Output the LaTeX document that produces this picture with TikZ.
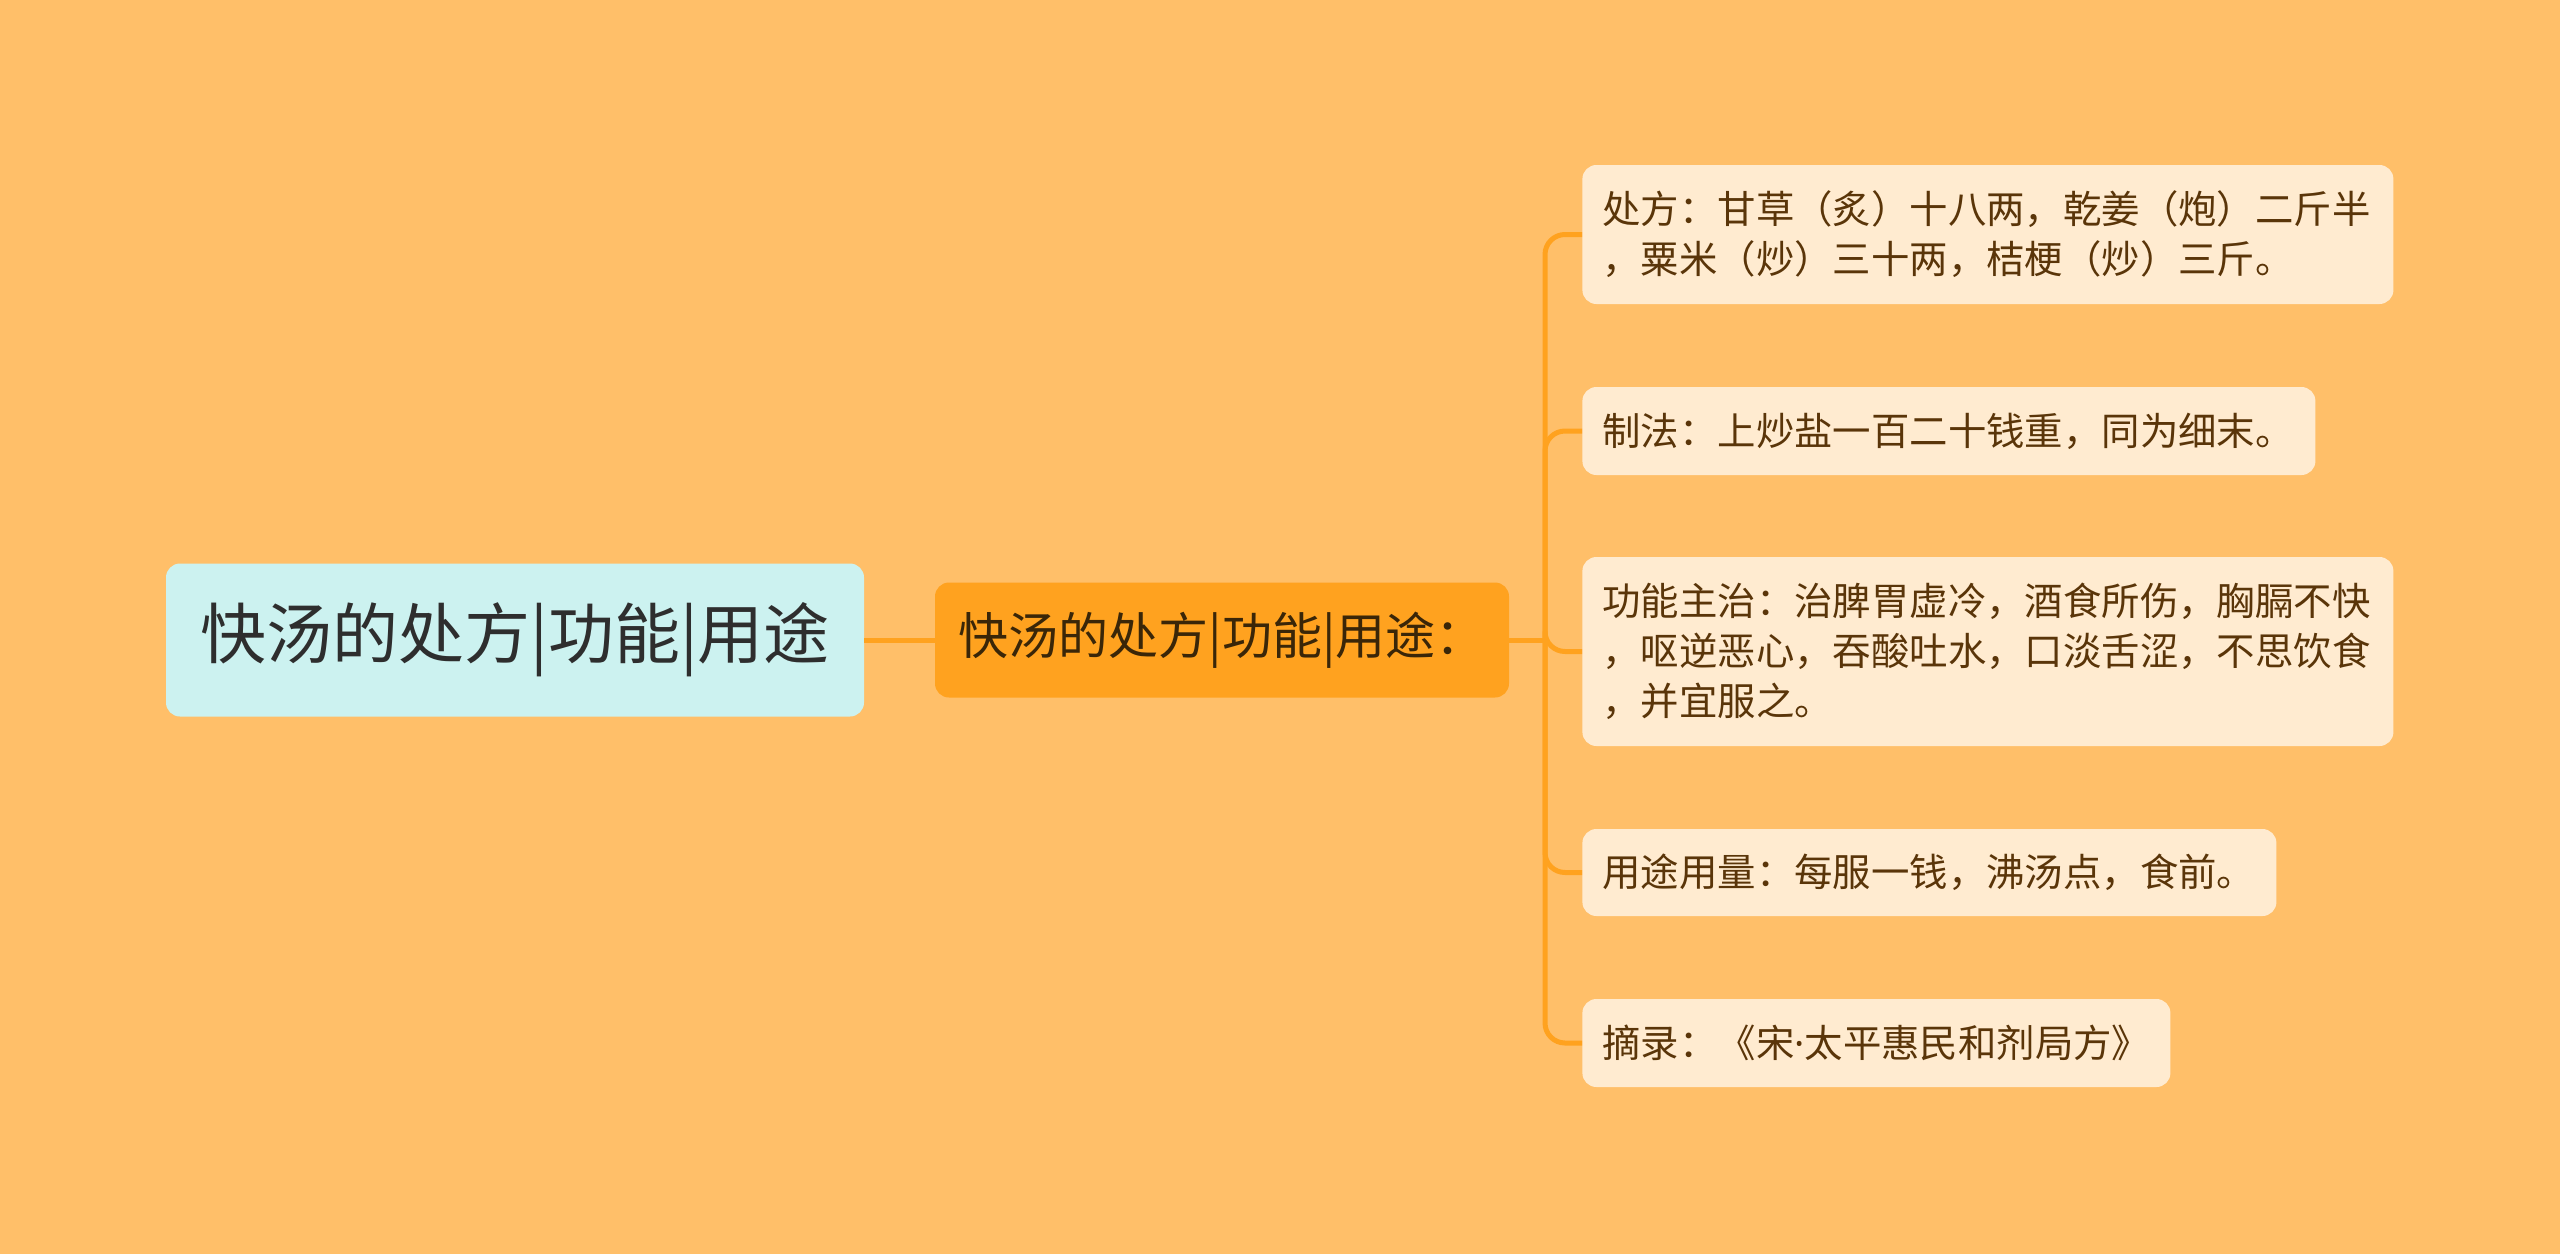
\documentclass[tikz,border=0pt]{standalone}
\usepackage{fontspec}
\setmainfont{Noto Sans CJK SC}
\newfontfamily\latinfont{Noto Sans}
\definecolor{bgcol}{HTML}{FFBF69}
\definecolor{rootfill}{HTML}{CCF2F0}
\definecolor{roottext}{HTML}{2E2E2E}
\definecolor{midfill}{HTML}{FFA21F}
\definecolor{midtext}{HTML}{3A2608}
\definecolor{leaffill}{HTML}{FFEBD0}
\definecolor{leaftext}{HTML}{5A3509}
\definecolor{conncol}{HTML}{FFA21F}
\begin{document}
\begin{tikzpicture}[x=0.5pt,y=-0.5pt,
  rootbox/.style={fill=rootfill, rounded corners=7pt, minimum width=349pt, minimum height=76.5pt, inner sep=0pt, font=\fontsize{33}{40}\selectfont, text=roottext},
  midbox/.style={fill=midfill, rounded corners=7pt, minimum width=287pt, minimum height=57.5pt, inner sep=0pt, font=\fontsize{25}{30}\selectfont, text=midtext},
  leafbox/.style={fill=leaffill, rounded corners=7pt, anchor=west, inner xsep=10pt, inner ysep=0pt, align=left, font=\fontsize{19.2}{25}\selectfont, text=leaftext},
  conn/.style={draw=conncol, line width=2.5pt, rounded corners=10pt}]
\fill[bgcol] (0,0) rectangle (2560,1254);
\useasboundingbox (0,0) rectangle (2560,1254);
\node[rootbox] (root) at (515,640) {快汤的处方|功能|用途};
\node[midbox] (mid) at (1222,640) {快汤的处方|功能|用途：};
\node[leafbox, text width=385.5pt, minimum height=69.5pt] (l1) at (1582,234.5) {处方：甘草（炙）十八两，乾姜（炮）二斤半\\，粟米（炒）三十两，桔梗（炒）三斤。};
\node[leafbox, text width=346.5pt, minimum height=44pt] (l2) at (1582,431) {制法：上炒盐一百二十钱重，同为细末。};
\node[leafbox, text width=385.5pt, minimum height=94.5pt] (l3) at (1582,651.5) {功能主治：治脾胃虚冷，酒食所伤，胸膈不快\\，呕逆恶心，吞酸吐水，口淡舌涩，不思饮食\\，并宜服之。};
\node[leafbox, text width=327pt, minimum height=43.5pt] (l4) at (1582,872.5) {用途用量：每服一钱，沸汤点，食前。};
\node[leafbox, text width=274pt, minimum height=44pt] (l5) at (1582,1043) {摘录：《宋{\latinfont ·}太平惠民和剂局方》};
\coordinate (bus) at (1545,640);
\draw[conn] (root.east) -- (mid.west);
\draw[conn] (mid.east) -- (bus);
\draw[conn] (bus) |- (l1.west);
\draw[conn] (bus) |- (l2.west);
\draw[conn] (bus) |- (l3.west);
\draw[conn] (bus) |- (l4.west);
\draw[conn] (bus) |- (l5.west);
\end{tikzpicture}
\end{document}
